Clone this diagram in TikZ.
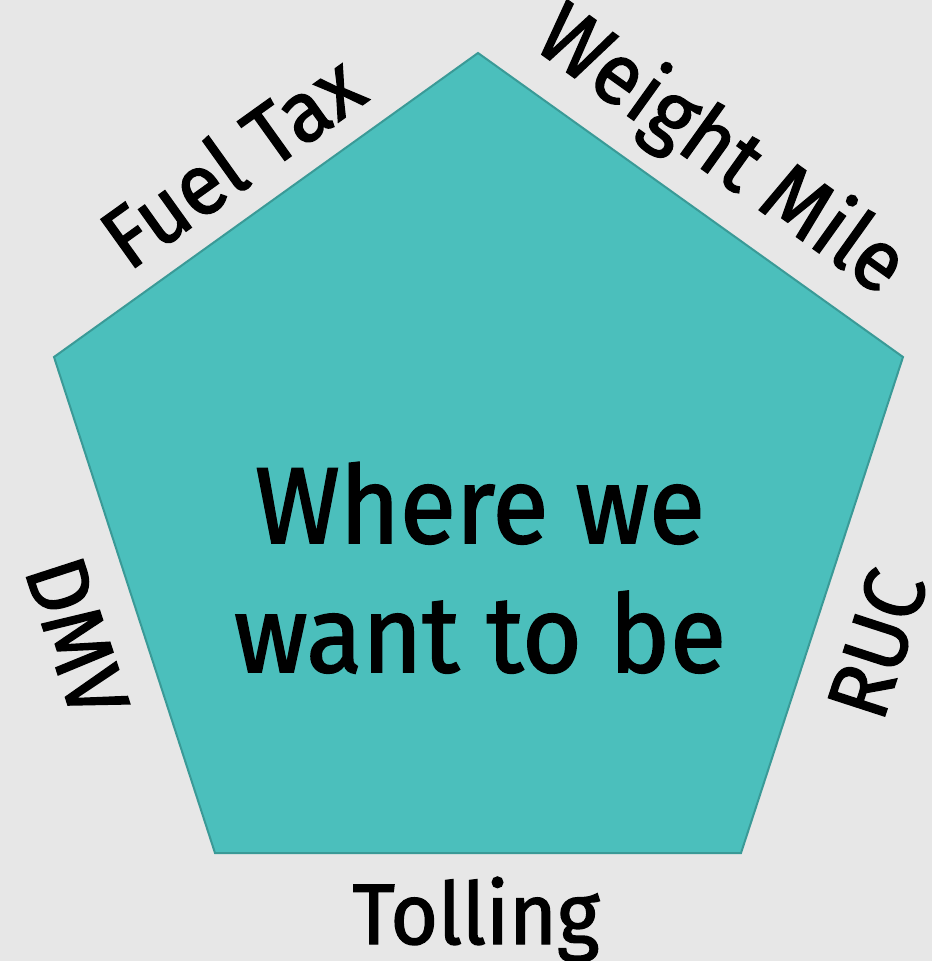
\documentclass[tikz,border=0pt]{standalone}
\usepackage{fontspec}
\setmainfont{Fira Sans}[FakeBold=1.6,FakeStretch=0.95]
\definecolor{bg}{HTML}{E7E7E7}
\definecolor{tealfill}{HTML}{4BBFBC}
\definecolor{tealline}{HTML}{3A9A97}
\begin{document}
\begin{tikzpicture}[x=1pt,y=-1pt,
  edgelabel/.style={inner sep=0pt,font=\fontsize{86}{90}\selectfont},
  maintext/.style={inner sep=0pt,anchor=base,font=\fontsize{108}{120}\selectfont}]
\fill[bg] (0,0) rectangle (932,961);
\useasboundingbox (0,0) rectangle (932,961);
\coordinate (top) at (478,53);
\coordinate (ul) at (54,357);
\coordinate (ur) at (903,357);
\coordinate (ll) at (215,853);
\coordinate (lr) at (741,853);
\draw[fill=tealfill,draw=tealline,line width=2pt,line join=miter] (top) -- (ur) -- (lr) -- (ll) -- (ul) -- cycle;
\node[maintext] (m1) at (480,543) {Where we};
\node[maintext] (m2) at (480,672) {want to be};
\node[edgelabel,rotate=35.6] (fuel) at (231,160) {Fuel Tax};
\node[edgelabel,rotate=-35.6] (weight) at (720,152) {Weight Mile};
\node[edgelabel,rotate=-72] (dmv) at (77,637) {DMV};
\node[edgelabel,rotate=72] (ruc) at (877,644) {RUC};
\node[edgelabel,anchor=base] (toll) at (476,944) {Tolling};
\end{tikzpicture}
\end{document}
